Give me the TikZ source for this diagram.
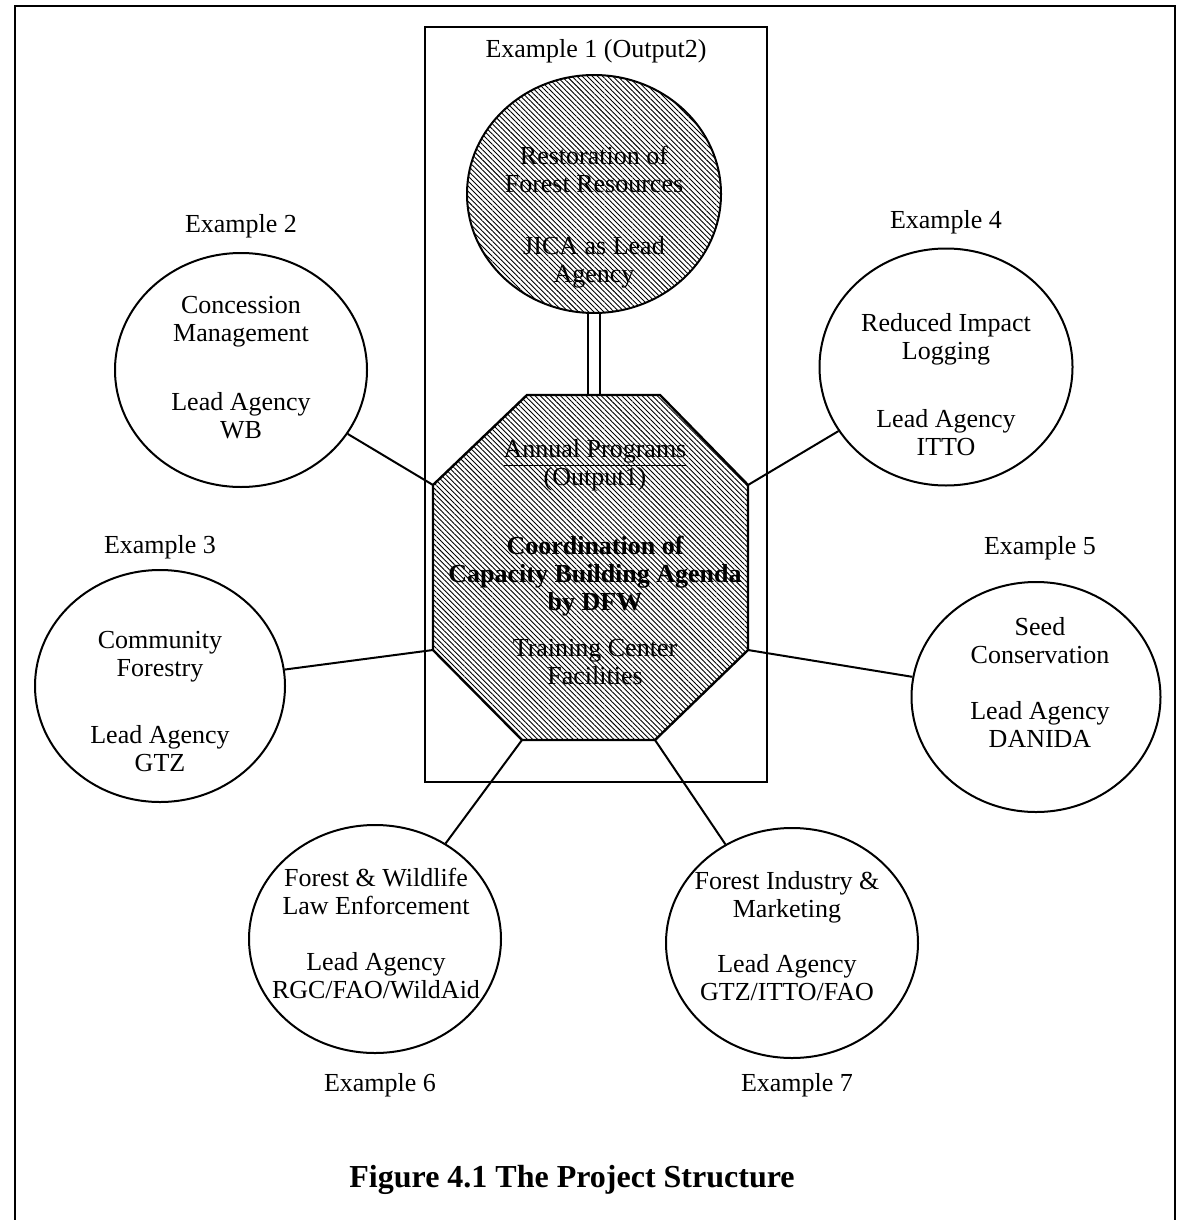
\documentclass[tikz,border=0pt]{standalone}
\usepackage{fontspec}
\setmainfont{Liberation Serif}
\usetikzlibrary{shapes.geometric,patterns.meta}
\begin{document}
\begin{tikzpicture}[x=0.5pt,y=-0.5pt,
  circ/.style={draw,ellipse,line width=1pt,inner sep=0pt,fill=white},
  txt/.style={align=center,font=\fontsize{13}{14}\selectfont,inner sep=0pt},
  btxt/.style={align=center,font=\fontsize{13}{14}\selectfont\bfseries,inner sep=0pt},
  conn/.style={line width=1pt},
  hatch/.style={pattern={Lines[angle=-45,distance=1.8pt,line width=0.45pt]}}]
\useasboundingbox (0,0) rectangle (1181,1220);
\fill[white] (0,0) rectangle (1181,1220);
% outer frame (open at the bottom)
\draw[line width=1.4pt] (15,1220) -- (15,6) -- (1175,6) -- (1175,1220);
% inner box
\draw[line width=1pt] (425,27) rectangle (767,782);
% octagon corners
\coordinate (o1) at (527,395);
\coordinate (o2) at (660,395);
\coordinate (o3) at (748,485);
\coordinate (o4) at (748,650);
\coordinate (o5) at (655,740);
\coordinate (o6) at (522,740);
\coordinate (o7) at (433,650);
\coordinate (o8) at (433,485);
\coordinate (otop) at (594,395);
% ellipses
\node[circ,minimum width=127pt,minimum height=119pt] (c1) at (594,194) {};
\fill[hatch] (594,194) ellipse[x radius=127,y radius=119];
\node[circ,minimum width=126pt,minimum height=117pt] (c2) at (241,370) {};
\node[circ,minimum width=125pt,minimum height=116pt] (c3) at (160,686) {};
\node[circ,minimum width=126.5pt,minimum height=118.5pt] (c4) at (946,367) {};
\node[circ,minimum width=124.5pt,minimum height=115pt] (c5) at (1036,697) {};
\node[circ,minimum width=126pt,minimum height=114pt] (c6) at (375,939) {};
\node[circ,minimum width=126pt,minimum height=115pt] (c7) at (792,943) {};
% connectors
\draw[conn] (c2) -- (o8);
\draw[conn] (c3) -- (o7);
\draw[conn] (c4) -- (o3);
\draw[conn] (c5) -- (o4);
\draw[conn] (c6) -- (o6);
\draw[conn] (c7) -- (o5);
\draw[double,double distance=5pt,line width=0.8pt] (c1) -- (otop);
% octagon
\fill[white] (o1) -- (o2) -- (o3) -- (o4) -- (o5) -- (o6) -- (o7) -- (o8) -- cycle;
\fill[hatch] (o1) -- (o2) -- (o3) -- (o4) -- (o5) -- (o6) -- (o7) -- (o8) -- cycle;
\draw[line width=1.2pt] (o1) -- (o2) -- (o3) -- (o4) -- (o5) -- (o6) -- (o7) -- (o8) -- cycle;
% texts
\node[txt] (e1) at (596,51) {Example 1 (Output2)};
\node[txt] (t1a) at (594,169) {Restoration of\\Forest Resources};
\node[txt] (t1b) at (594,262) {JICA as Lead\\Agency};
\node[txt] (toa) at (595,465) {\underline{Annual Programs}\\(Output1)};
\node[btxt] (tob) at (595,576) {Coordination of\\Capacity Building Agenda\\by DFW};
\node[txt] (toc) at (595,662) {Training Center\\Facilities};
\node[txt] (e2) at (241,226) {Example 2};
\node[txt] (t2a) at (241,322) {Concession\\Management};
\node[txt] (t2b) at (241,416) {Lead Agency\\WB};
\node[txt] (e3) at (160,547) {Example 3};
\node[txt] (t3a) at (160,657) {Community\\Forestry};
\node[txt] (t3b) at (160,749) {Lead Agency\\GTZ};
\node[txt] (e4) at (946,222) {Example 4};
\node[txt] (t4a) at (946,339) {Reduced Impact\\Logging};
\node[txt] (t4b) at (946,433) {Lead Agency\\ITTO};
\node[txt] (e5) at (1040,548) {Example 5};
\node[txt] (t5a) at (1040,641) {Seed\\Conservation};
\node[txt] (t5b) at (1040,724) {Lead Agency\\DANIDA};
\node[txt] (t6a) at (376,891) {Forest \& Wildlife\\Law Enforcement};
\node[txt] (t6b) at (376,976) {Lead Agency\\RGC/FAO/WildAid};
\node[txt] (e6) at (380,1085) {Example 6};
\node[txt] (t7a) at (787,897) {Forest Industry \&\\Marketing};
\node[txt] (t7b) at (787,978) {Lead Agency\\GTZ/ITTO/FAO};
\node[txt] (e7) at (797,1085) {Example 7};
\node[font=\fontsize{16}{18}\selectfont\bfseries,inner sep=0pt] (cap) at (572,1180) {Figure 4.1 The Project Structure};
\end{tikzpicture}
\end{document}
